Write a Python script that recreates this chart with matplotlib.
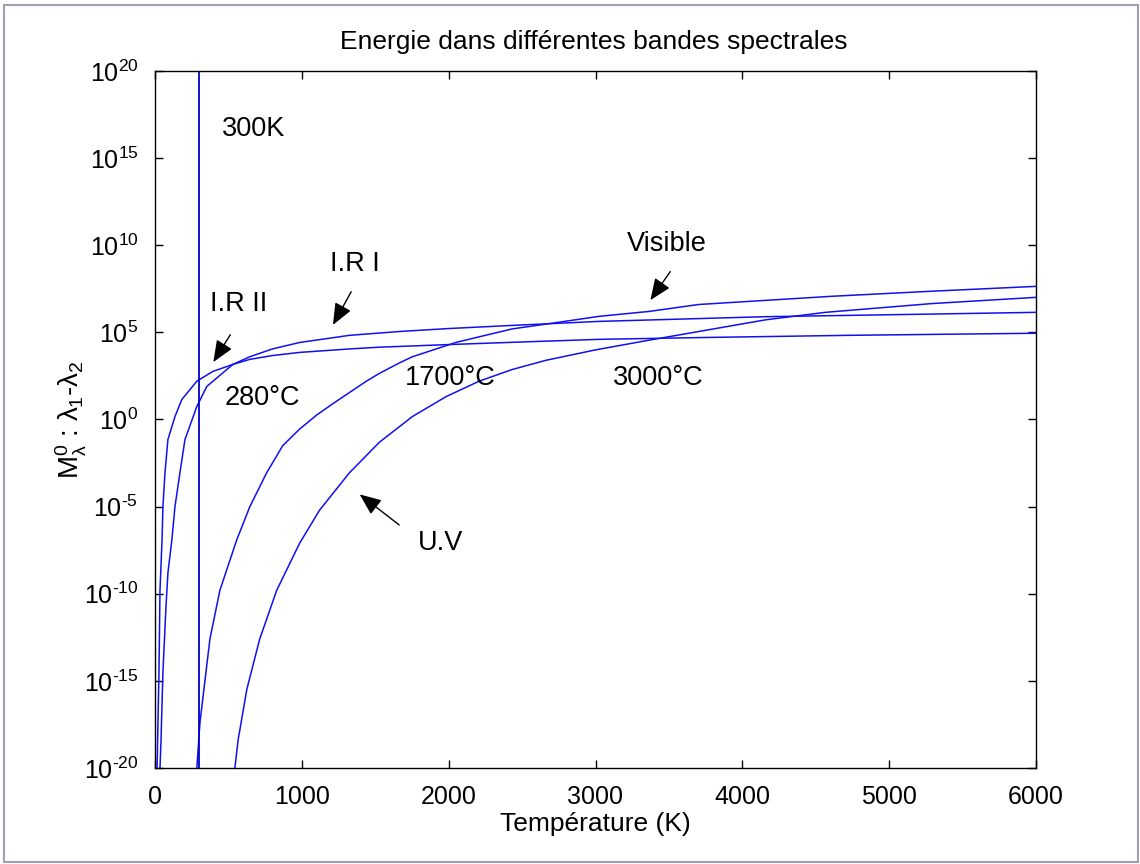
import matplotlib
matplotlib.use("Agg")
import matplotlib.pyplot as plt
from matplotlib.patches import Rectangle
from matplotlib.ticker import NullLocator
import numpy as np

# values: temperature (K) and log10 of band energy
ir2_T = [14, 27, 34, 48, 54, 68, 88, 136, 183, 285, 394, 530, 645, 800, 985, 1325,
         1529, 2000, 2433, 3024, 3771, 4722, 6000]
ir2_log = [-20, -14.5, -9.8, -6.9, -5.0, -3.05, -1.15, 0.17, 1.15, 2.2, 2.76, 3.16,
           3.45, 3.67, 3.85, 4.05, 4.15, 4.3, 4.43, 4.6, 4.71, 4.83, 4.95]

ir1_T = [34, 41, 54, 75, 88, 115, 136, 170, 204, 285, 353, 530, 645, 800, 985,
         1325, 1665, 2000, 2433, 3024, 4158, 5286, 6000]
ir1_log = [-20, -18.4, -14.5, -10.7, -8.8, -6.9, -5.0, -3.05, -1.15, 0.75, 1.9,
           3.16, 3.6, 4.05, 4.42, 4.83, 5.05, 5.22, 5.4, 5.63, 5.9, 6.05, 6.15]

vis_T = [285, 306, 374, 442, 557, 646, 761, 870, 985, 1100, 1210, 1440, 1529,
         1665, 1753, 2052, 2433, 2684, 3024, 3363, 3703, 4607, 5286, 6000]
vis_log = [-20, -17.4, -12.6, -9.8, -6.9, -5.0, -3.05, -1.5, -0.55, 0.25, 0.9,
           2.2, 2.65, 3.25, 3.6, 4.43, 5.2, 5.5, 5.92, 6.2, 6.6, 7.07, 7.36, 7.64]

uv_T = [544, 566, 625, 713, 829, 985, 1121, 1325, 1529, 1753, 1984, 2208, 2433,
        2664, 3003, 3363, 3567, 4158, 4566, 5286, 6000]
uv_log = [-20, -18.4, -15.5, -12.6, -9.8, -7.1, -5.2, -3.05, -1.3, 0.17, 1.32,
          2.2, 2.87, 3.4, 4.0, 4.55, 4.85, 5.72, 6.15, 6.65, 7.01]

t_300k = 300
x_ticks = [0, 1000, 2000, 3000, 4000, 5000, 6000]
y_exps = [-20, -15, -10, -5, 0, 5, 10, 15, 20]

plt.rcParams['font.family'] = ['Liberation Sans', 'DejaVu Sans']
plt.rcParams['mathtext.fontset'] = 'custom'
plt.rcParams['mathtext.rm'] = 'Liberation Sans'
plt.rcParams['mathtext.it'] = 'Liberation Sans'
plt.rcParams['mathtext.bf'] = 'Liberation Sans'

fig = plt.figure(figsize=(11.4, 8.64), dpi=100)
ax = fig.add_axes([155 / 1140, 1 - 768 / 864, (1036 - 155) / 1140, (768 - 71) / 864])

blue = '#1010f0'
for T, lg in [(ir2_T, ir2_log), (ir1_T, ir1_log), (vis_T, vis_log), (uv_T, uv_log)]:
    ax.plot(T, 10.0 ** np.array(lg), color=blue, lw=1.1)
ax.axvline(t_300k, color='#0000c8', lw=1.3)

ax.set_yscale('log')
ax.set_xlim(0, 6000)
ax.set_ylim(1e-20, 1e20)
ax.set_xticks(x_ticks)
ax.set_xticklabels([str(v) for v in x_ticks])
ax.set_yticks([10.0 ** e for e in y_exps])
ax.set_yticklabels([r'$10^{\text{%d}}$' % e for e in y_exps])
ax.yaxis.set_minor_locator(NullLocator())
ax.tick_params(direction='in', length=6, width=1, top=True, right=True,
               labelsize=18, pad=12)
for s in ax.spines.values():
    s.set_linewidth(1.0)

ax.set_xlabel('Température (K)', fontsize=19)
ax.xaxis.set_label_coords(0.5, -0.063)
ax.set_ylabel(r'$\mathrm{M}^0_\lambda$ : $\lambda_1$-$\lambda_2$', fontsize=20)
ax.yaxis.set_label_coords(-0.075, 0.5)
fig.text(594 / 1140, 1 - 42 / 864, 'Energie dans différentes bandes spectrales',
         ha='center', va='center', fontsize=19)

txt = dict(fontsize=19.5, va='center', ha='left')
ax.text(455, 10 ** 16.67, '300K', **txt)
ax.text(374, 10 ** 6.6, 'I.R II', **txt)
ax.text(1189, 10 ** 8.9, 'I.R I', **txt)
ax.text(3214, 10 ** 10.06, 'Visible', **txt)
ax.text(476, 10 ** 1.26, '280°C', **txt)
ax.text(1699, 10 ** 2.41, '1700°C', **txt)
ax.text(3119, 10 ** 2.41, '3000°C', **txt)
ax.text(1787, 10 ** -7.07, 'U.V', **txt)

arrow = dict(arrowstyle='-|>,head_length=0.6,head_width=0.25', color='k', lw=1,
             mutation_scale=22)
ax.annotate('', xy=(387, 10 ** 3.16), xytext=(523, 10 ** 5.0), arrowprops=arrow)
ax.annotate('', xy=(1203, 10 ** 5.29), xytext=(1345, 10 ** 7.47), arrowprops=arrow)
ax.annotate('', xy=(3363, 10 ** 6.72), xytext=(3520, 10 ** 8.62), arrowprops=arrow)
ax.annotate('', xy=(1379, 10 ** -4.2), xytext=(1678, 10 ** -6.15), arrowprops=arrow)

fig.patches.append(Rectangle((4 / 1140, 2 / 864), 1134 / 1140, 857 / 864,
                             transform=fig.transFigure, fill=False,
                             edgecolor='#a0a0b0', lw=1.5))

fig.savefig('out.png', dpi=100)
